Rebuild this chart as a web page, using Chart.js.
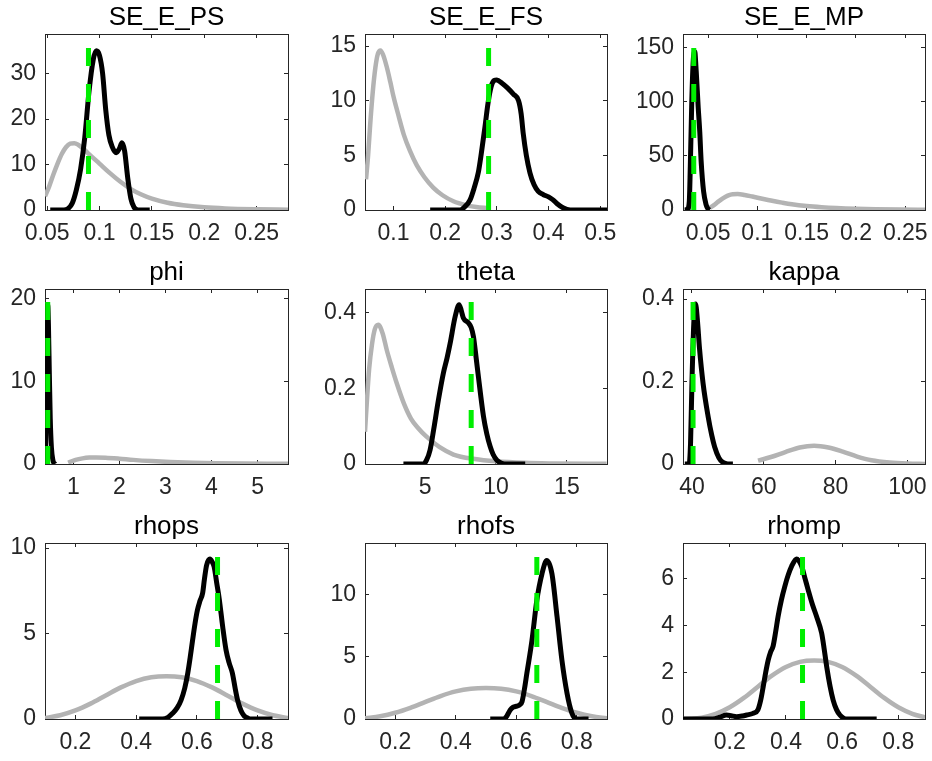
<!DOCTYPE html>
<html>
<head>
<meta charset="utf-8">
<script src="https://cdn.jsdelivr.net/npm/chart.js@4.4.1/dist/chart.umd.min.js"></script>
<style>
html, body { margin: 0; padding: 0; background: #fff; }
#fig { position: relative; width: 932px; height: 761px; overflow: hidden; }
.cell { position: absolute; }
</style>
</head>
<body>
<div id="fig"></div>
<script>
// panel titles, left to right, top to bottom
const names = ['SE_E_PS', 'SE_E_FS', 'SE_E_MP', 'phi', 'theta', 'kappa', 'rhops', 'rhofs', 'rhomp']

// prior densities (grey), [x, density]
const psPrior = [[0.048,3.0],[0.052,5.2],[0.056,7.8],[0.060,10.2],[0.064,12.3],[0.068,13.8],[0.072,14.6],[0.076,14.7],[0.080,14.3],[0.085,13.4],[0.090,12.3],[0.100,10.2],[0.110,8.1],[0.120,6.2],[0.130,4.6],[0.140,3.4],[0.150,2.5],[0.165,1.6],[0.180,1.05],[0.200,0.6],[0.220,0.35],[0.250,0.17],[0.280,0.08]]
const fsPrior = [[0.047,2.8],[0.051,5.0],[0.055,7.8],[0.060,10.8],[0.065,13.0],[0.070,14.3],[0.075,14.6],[0.080,14.2],[0.087,13.1],[0.094,11.7],[0.100,10.4],[0.110,8.6],[0.120,6.9],[0.132,5.4],[0.145,4.1],[0.160,3.0],[0.177,2.05],[0.195,1.35],[0.216,0.8],[0.240,0.45],[0.260,0.28],[0.283,0.17]]
const mpPrior = [[0.052,2.0],[0.056,4.5],[0.060,7.5],[0.065,10.8],[0.070,13.3],[0.075,14.6],[0.080,14.7],[0.087,13.9],[0.095,12.4],[0.105,10.4],[0.115,8.5],[0.125,6.8],[0.135,5.3],[0.150,3.7],[0.165,2.6],[0.180,1.8],[0.200,1.1],[0.220,0.7],[0.245,0.4],[0.270,0.22]]
const phiPrior = [[0.89,0.15],[0.95,0.3],[1.05,0.5],[1.2,0.68],[1.35,0.78],[1.5,0.8],[1.7,0.77],[2.0,0.65],[2.3,0.5],[2.7,0.35],[3.1,0.24],[3.6,0.15],[4.1,0.09],[4.7,0.05],[5.2,0.03],[5.66,0.02]]
const thetaPrior = [[0.76,0.085],[0.9,0.17],[1.05,0.25],[1.25,0.315],[1.45,0.355],[1.7,0.367],[2.0,0.345],[2.3,0.30],[2.65,0.255],[3.0,0.213],[3.5,0.16],[4.0,0.12],[4.5,0.095],[5.1,0.072],[6.0,0.045],[7.0,0.025],[8.5,0.013],[10,0.007],[12,0.003],[14,0.0015],[17.8,0.0005]]
const kappaPrior = [[58.4,0.008],[62,0.017],[66,0.029],[70,0.040],[74,0.0443],[78,0.040],[82,0.030],[86,0.018],[90,0.009],[95,0.0035],[100,0.001],[104.9,0.0002]]
const rhoPrior = [[0.1,0.06],[0.15,0.22],[0.2,0.5],[0.25,0.9],[0.3,1.38],[0.35,1.85],[0.4,2.22],[0.45,2.44],[0.5,2.5],[0.55,2.44],[0.6,2.22],[0.65,1.85],[0.7,1.38],[0.75,0.9],[0.8,0.5],[0.85,0.22],[0.9,0.06]]
const rhompPrior = [[0.0335,0.0],[0.06,0.01],[0.1,0.06],[0.15,0.22],[0.2,0.5],[0.25,0.9],[0.3,1.38],[0.35,1.85],[0.4,2.22],[0.45,2.44],[0.5,2.5],[0.55,2.44],[0.6,2.22],[0.65,1.85],[0.7,1.38],[0.75,0.9],[0.8,0.5],[0.85,0.22],[0.895,0.07]]

// posterior densities (black)
const psPost = [[0.053,0],[0.066,0],[0.070,0.3],[0.074,1.5],[0.078,4.5],[0.082,9],[0.086,16],[0.090,26],[0.094,33],[0.097,35],[0.100,34],[0.103,30],[0.106,22],[0.109,16.5],[0.112,14],[0.116,12.6],[0.119,13.5],[0.1215,14.8],[0.124,13],[0.127,7],[0.130,2.5],[0.133,0.6],[0.137,0],[0.148,0]]
const fsPost = [[0.171,0],[0.229,0],[0.238,0.3],[0.248,0.9],[0.256,2.0],[0.264,3.4],[0.270,5.2],[0.277,7.6],[0.283,9.8],[0.289,11.3],[0.295,11.85],[0.300,11.9],[0.310,11.6],[0.320,11.2],[0.332,10.6],[0.342,10.0],[0.347,8.8],[0.351,7.0],[0.357,5.0],[0.364,3.4],[0.372,2.3],[0.380,1.7],[0.390,1.4],[0.400,1.2],[0.408,0.95],[0.416,0.6],[0.428,0.2],[0.442,0],[0.513,0]]
const mpPost = [[0.0263,0],[0.029,0.5],[0.031,8],[0.032,40],[0.0335,100],[0.035,138],[0.0365,146],[0.038,128],[0.040,95],[0.0416,72],[0.043,45],[0.0455,17],[0.048,5],[0.050,1],[0.0517,0]]
const phiPost = [[0.39,0],[0.40,3],[0.415,12],[0.43,18.5],[0.445,19.3],[0.46,17],[0.48,11],[0.50,5.5],[0.525,2],[0.56,0.4],[0.60,0]]
const thetaPost = [[3.47,0],[4.88,0],[5.1,0.01],[5.35,0.037],[5.6,0.09],[5.94,0.169],[6.29,0.24],[6.55,0.28],[6.77,0.319],[7.12,0.389],[7.40,0.42],[7.55,0.405],[7.70,0.385],[8.06,0.372],[8.25,0.36],[8.41,0.336],[8.6,0.28],[8.76,0.23],[9.12,0.125],[9.35,0.08],[9.59,0.046],[9.8,0.025],[10.06,0.01],[10.4,0.002],[10.8,0],[12.06,0]]
const kappaPost = [[38,0],[39.2,0],[39.6,0.05],[40.0,0.2],[40.5,0.34],[41.0,0.388],[41.5,0.35],[42.1,0.28],[43.1,0.195],[44.5,0.115],[45.5,0.07],[46.3,0.042],[47.5,0.015],[48.6,0.004],[50,0],[51.4,0]]
const rhopsPost = [[0.41,0],[0.487,0],[0.505,0.1],[0.52,0.33],[0.535,0.65],[0.548,1.11],[0.56,1.8],[0.57,2.68],[0.578,3.6],[0.586,4.63],[0.594,5.6],[0.602,6.39],[0.61,6.9],[0.619,7.37],[0.625,8.2],[0.632,9.0],[0.643,9.36],[0.65,9.2],[0.657,8.9],[0.665,8.0],[0.674,6.98],[0.685,5.4],[0.696,4.04],[0.706,3.3],[0.717,2.68],[0.726,1.8],[0.734,1.11],[0.745,0.5],[0.755,0.2],[0.762,0.1],[0.775,0],[0.849,0]]
const rhofsPost = [[0.514,0],[0.558,0],[0.568,0.2],[0.58,0.72],[0.59,0.95],[0.602,1.04],[0.612,1.15],[0.619,1.39],[0.627,2.4],[0.635,3.67],[0.652,6.34],[0.668,9.55],[0.685,11.69],[0.701,12.76],[0.718,11.69],[0.735,8.21],[0.751,4.73],[0.768,2.06],[0.784,0.46],[0.795,0.05],[0.805,0],[0.839,0]]
const rhompPost = [[0.0335,0],[0.14,0],[0.165,0.08],[0.188,0.17],[0.205,0.14],[0.224,0.1],[0.245,0.13],[0.26,0.17],[0.283,0.24],[0.30,0.39],[0.31,0.8],[0.319,1.38],[0.328,2.0],[0.337,2.53],[0.345,2.85],[0.354,3.1],[0.363,3.7],[0.372,4.38],[0.384,5.1],[0.396,5.67],[0.408,6.15],[0.42,6.52],[0.438,6.84],[0.456,6.52],[0.468,6.0],[0.479,5.52],[0.494,4.9],[0.509,4.38],[0.527,3.67],[0.536,3.0],[0.545,2.24],[0.557,1.4],[0.568,0.81],[0.58,0.4],[0.592,0.17],[0.605,0.04],[0.616,0],[0.723,0]]

// posterior mode (green dashed): [x, line top]
const modes = [[0.0895,36.3],[0.284,15.3],[0.0355,152],[0.445,20.1],[8.25,0.438],[40.3,0.40],[0.668,9.71],[0.668,13.3],[0.459,7.1]]

// axis limits and tick labels
const xLimits = [[0.048,0.280],[0.045,0.513],[0.0246,0.270],[0.386,5.66],[0.76,17.83],[37.5,104.9],[0.1,0.9],[0.1,0.9],[0.0335,0.895]]
const yTops = [38.7, 16.1, 162.4, 21.2, 0.4616, 0.4245, 10.3, 14.17, 7.52]
const xTicks = [[0.05,0.1,0.15,0.2,0.25],[0.1,0.2,0.3,0.4,0.5],[0.05,0.1,0.15,0.2,0.25],[1,2,3,4,5],[5,10,15],[40,60,80,100],[0.2,0.4,0.6,0.8],[0.2,0.4,0.6,0.8],[0.2,0.4,0.6,0.8]]
const yTicks = [[0,10,20,30],[0,5,10,15],[0,50,100,150],[0,10,20],[0,0.2,0.4],[0,0.2,0.4],[0,5,10],[0,5,10],[0,2,4,6]]

const priors = [psPrior, fsPrior, mpPrior, phiPrior, thetaPrior, kappaPrior, rhoPrior, rhoPrior, rhompPrior]
const posts = [psPost, fsPost, mpPost, phiPost, thetaPost, kappaPost, rhopsPost, rhofsPost, rhompPost]

// layout of the 3x3 grid (plot boxes)
const FONT = '"Liberation Sans", Arial, Helvetica, sans-serif'
const AXIS = '#262626'
const colLeft = [45, 365, 683]
const colWidth = [243, 242, 242]
const rowTop = [34, 289, 543]
const rowHeight = [176, 175, 176]
const Y_W = 45
const TITLE_H = 31
const X_H = 45

function toXY(pairs) {
  return pairs.map(p => ({x: p[0], y: p[1]}))
}

function setTicks(values) {
  return function(scale) {
    scale.ticks = values.map(v => ({value: v}))
  }
}

function noPad(scale) {
  scale.paddingLeft = 0
  scale.paddingRight = 0
  scale.paddingTop = 0
  scale.paddingBottom = 0
}

function grid() {
  return {display: true, drawOnChartArea: false, drawTicks: true, tickLength: -4, color: AXIS, lineWidth: 1}
}

function makePanel(i) {
  const r = Math.floor(i / 3), c = i % 3
  const padRight = c === 2 ? 932 - colLeft[c] - colWidth[c] : 25
  const w = Y_W + colWidth[c] + padRight
  const h = TITLE_H + rowHeight[r] + X_H

  const div = document.createElement('div')
  div.className = 'cell'
  div.style.left = (colLeft[c] - Y_W) + 'px'
  div.style.top = (rowTop[r] - TITLE_H) + 'px'
  div.style.width = w + 'px'
  div.style.height = h + 'px'
  const canvas = document.createElement('canvas')
  canvas.width = w
  canvas.height = h
  div.appendChild(canvas)
  document.getElementById('fig').appendChild(div)

  const tickFont = {family: FONT, size: 23}
  const [xmin, xmax] = xLimits[i]

  new Chart(canvas.getContext('2d'), {
    type: 'line',
    data: {
      datasets: [
        {
          data: toXY([[modes[i][0], 0], [modes[i][0], modes[i][1]]]),
          borderColor: '#00ee00',
          borderWidth: 5,
          borderDash: [18, 18],
          pointRadius: 0
        },
        {
          data: toXY(posts[i]),
          borderColor: '#000000',
          borderWidth: 5,
          pointRadius: 0,
          cubicInterpolationMode: 'monotone'
        },
        {
          data: toXY(priors[i]),
          borderColor: '#b3b3b3',
          borderWidth: 4.5,
          pointRadius: 0,
          cubicInterpolationMode: 'monotone'
        }
      ]
    },
    options: {
      responsive: false,
      animation: false,
      devicePixelRatio: 1,
      events: [],
      layout: {padding: {left: 0, right: padRight, top: 0, bottom: 0}},
      scales: {
        x: {
          type: 'linear', position: 'bottom', min: xmin, max: xmax,
          afterBuildTicks: setTicks(xTicks[i]),
          afterFit: s => { s.height = X_H; noPad(s) },
          ticks: {font: tickFont, color: AXIS, padding: 14, maxRotation: 0, autoSkip: false, callback: v => String(v)},
          grid: grid(),
          border: {display: true, color: AXIS, width: 1}
        },
        x2: {
          type: 'linear', position: 'top', min: xmin, max: xmax,
          afterBuildTicks: setTicks(xTicks[i]),
          afterFit: s => { s.height = 0; noPad(s) },
          ticks: {display: false},
          grid: grid(),
          border: {display: true, color: AXIS, width: 1}
        },
        y: {
          type: 'linear', position: 'left', min: 0, max: yTops[i],
          afterBuildTicks: setTicks(yTicks[i]),
          afterFit: s => { s.width = Y_W; noPad(s) },
          ticks: {font: tickFont, color: AXIS, padding: 13, autoSkip: false, callback: v => String(v)},
          grid: grid(),
          border: {display: true, color: AXIS, width: 1}
        },
        y2: {
          type: 'linear', position: 'right', min: 0, max: yTops[i],
          afterBuildTicks: setTicks(yTicks[i]),
          afterFit: s => { s.width = 0; noPad(s) },
          ticks: {display: false},
          grid: grid(),
          border: {display: true, color: AXIS, width: 1}
        }
      },
      plugins: {
        legend: {display: false},
        tooltip: {enabled: false},
        title: {
          display: true,
          text: names[i],
          fullSize: false,
          color: '#000000',
          font: {family: FONT, size: 26, weight: 'normal', lineHeight: '30px'},
          padding: {top: 0, bottom: 1}
        }
      }
    }
  })
}

for (let i = 0; i < names.length; i++) makePanel(i)
</script>
</body>
</html>
